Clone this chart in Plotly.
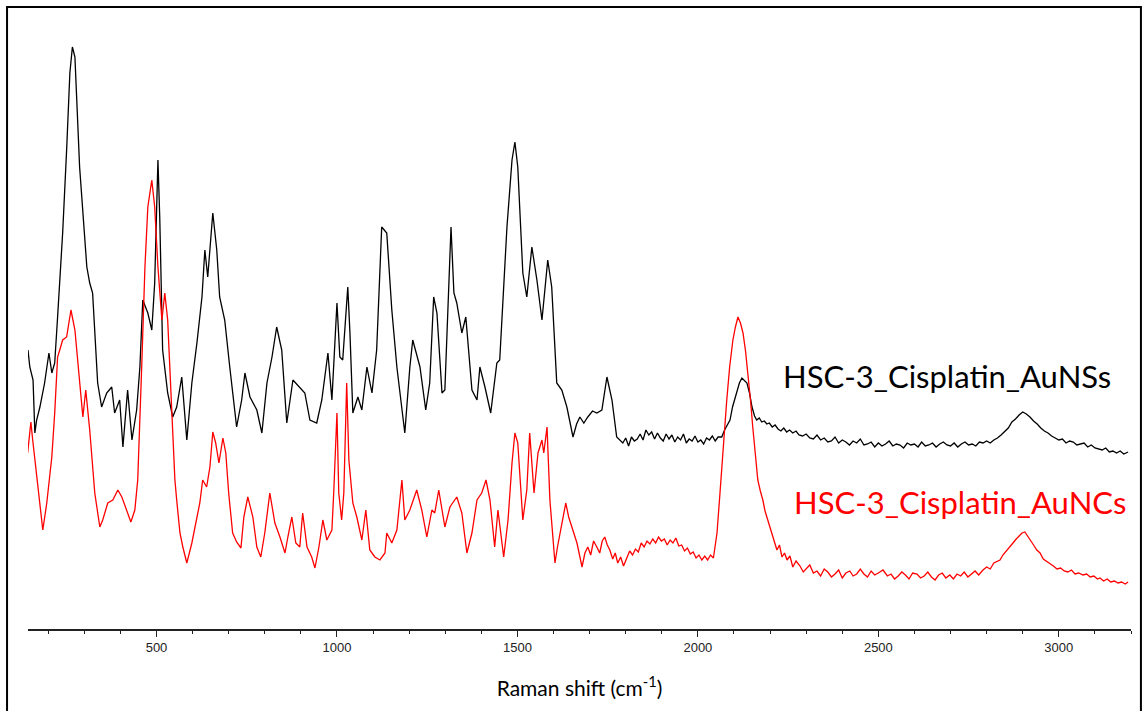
import plotly.graph_objects as go

# ---- data: Raman shift (cm-1) and intensity (a.u., offset traces) ----
black_x = [144, 149, 158, 163, 168, 177, 190, 202, 210, 218, 226, 240, 251, 260, 267, 274, 287, 307, 315, 323,
           337, 348, 362, 376, 384, 398, 407, 420, 432, 445, 454, 462, 476, 487, 495, 504, 509, 517, 531, 545,
           556, 570, 584, 598, 612, 626, 634, 642, 656, 667, 675, 689, 703, 722, 736, 745, 759, 778, 792, 806,
           820, 833, 847, 861, 878, 897, 911, 925, 944, 958, 975, 986, 1000, 1008, 1016, 1030, 1036, 1044, 1058, 1069,
           1083, 1097, 1110, 1124, 1138, 1152, 1166, 1188, 1202, 1210, 1230, 1246, 1257, 1268, 1277, 1291, 1299, 1316, 1324, 1332,
           1346, 1357, 1374, 1388, 1396, 1410, 1426, 1443, 1451, 1471, 1485, 1493, 1501, 1515, 1526, 1540, 1554, 1568, 1584, 1595,
           1609, 1623, 1637, 1654, 1664, 1673, 1684, 1695, 1708, 1720, 1734, 1748, 1762, 1775,
           1792, 1800, 1808, 1816, 1824, 1832, 1840, 1848, 1856, 1864, 1872, 1880, 1888, 1896, 1904, 1912, 1920, 1928, 1936, 1944,
           1952, 1960, 1968, 1976, 1984, 1992, 2000, 2008, 2016, 2024, 2032, 2040, 2048, 2056, 2066, 2074, 2082, 2089, 2096, 2102,
           2108, 2115, 2122, 2129, 2136, 2143, 2150, 2157, 2163, 2170, 2177, 2184, 2191, 2198, 2206, 2214, 2222, 2230, 2238, 2246,
           2254, 2263, 2272, 2280, 2290, 2300, 2310, 2320, 2330, 2340, 2350, 2360, 2370, 2380, 2390, 2400, 2410, 2420, 2430, 2440,
           2450, 2460, 2470, 2480, 2490, 2500, 2510, 2520, 2530, 2540, 2550, 2560, 2570, 2580, 2590, 2600, 2610, 2620, 2630, 2640,
           2650, 2660, 2670, 2680, 2690, 2700, 2710, 2720, 2730, 2740, 2750, 2760, 2770, 2780, 2790, 2800, 2810, 2820, 2830, 2840,
           2850, 2860, 2870, 2880, 2890, 2900, 2910, 2920, 2930, 2940, 2950, 2960, 2970, 2980, 2990, 3000, 3010, 3020, 3030, 3040,
           3050, 3060, 3070, 3080, 3090, 3100, 3110, 3120, 3130, 3140, 3150, 3160, 3170, 3180, 3192]
black_y = [279, 262, 249, 196, 209, 222, 246, 276, 256, 266, 312, 396, 479, 556, 582, 572, 462, 362, 346, 336,
           246, 222, 236, 242, 216, 229, 182, 239, 189, 219, 262, 329, 316, 299, 346, 469, 412, 279, 236, 212,
           222, 252, 189, 246, 286, 332, 379, 352, 416, 379, 332, 309, 262, 202, 229, 256, 232, 219, 196, 246,
           272, 302, 279, 206, 249, 242, 236, 209, 206, 229, 276, 229, 326, 272, 269, 342, 296, 216, 232, 219,
           262, 236, 279, 402, 396, 319, 262, 196, 262, 289, 262, 219, 246, 332, 316, 236, 239, 402, 336, 326,
           296, 312, 239, 229, 262, 242, 216, 266, 269, 402, 469, 487, 462, 356, 332, 382, 349, 309, 369, 342,
           246, 239, 222, 192, 205, 212, 206, 212, 218, 216, 219, 252, 229, 192,
           186, 191, 183, 192, 188, 190, 195, 189, 199, 194, 197, 190, 196, 191, 188, 195, 190, 194, 187, 192,
           189, 195, 186, 190, 188, 193, 187, 189, 185, 191, 189, 193, 188, 192, 192, 199, 205, 209, 222, 230,
           236, 246, 251, 248, 246, 236, 222, 213, 209, 211, 207, 208, 205, 206, 202, 204, 200, 198, 201, 197,
           199, 196, 198, 194, 193, 195, 191, 190, 194, 189, 191, 187, 188, 192, 186, 189, 187, 184, 188, 186,
           190, 184, 185, 187, 182, 186, 183, 185, 188, 183, 185, 184, 181, 186, 184, 185, 182, 187, 183, 184,
           186, 182, 185, 187, 184, 183, 186, 182, 185, 187, 184, 185, 183, 187, 186, 188, 186, 189, 191, 194,
           198, 201, 207, 210, 214, 217, 215, 212, 208, 205, 201, 198, 196, 193, 191, 189, 190, 186, 188, 187,
           184, 185, 186, 182, 184, 181, 180, 179, 181, 177, 178, 176, 178, 175, 177]

red_x = [143, 152, 157, 168, 177, 185, 196, 210, 218, 226, 232, 240, 251, 263, 274, 287, 296, 304, 315, 329,
         343, 351, 365, 379, 393, 404, 418, 429, 440, 448, 459, 468, 476, 487, 495, 504, 515, 523, 531, 542,
         551, 556, 565, 573, 584, 598, 612, 620, 628, 639, 648, 656, 664, 673, 684, 692, 700, 711, 722, 734,
         742, 753, 767, 778, 789, 800, 814, 828, 842, 856, 864, 875, 886, 897, 905, 917, 930, 939, 950, 961,
         972, 986, 991, 1000, 1005, 1013, 1019, 1027, 1033, 1044, 1055, 1069, 1080, 1091, 1105, 1119, 1133, 1138, 1152, 1166,
         1180, 1188, 1202, 1221, 1235, 1249, 1263, 1271, 1282, 1299, 1313, 1332, 1346, 1360, 1374, 1388, 1401, 1413, 1424, 1437,
         1446, 1462, 1474, 1485, 1493, 1501, 1515, 1526, 1534, 1546, 1557, 1568, 1573, 1582, 1590, 1600, 1604, 1611, 1618, 1626,
         1634, 1642, 1651, 1658, 1665, 1672, 1679, 1687, 1695, 1703, 1711, 1720, 1728, 1735, 1742, 1749, 1756, 1764, 1771, 1778,
         1786, 1794, 1803, 1811, 1819, 1827, 1835, 1843, 1851, 1859, 1867, 1875, 1883, 1891, 1899, 1907, 1915, 1923, 1931, 1939,
         1947, 1955, 1963, 1971, 1979, 1987, 1995, 2003, 2011, 2019, 2027, 2035, 2043, 2049, 2053, 2060, 2066, 2073, 2080, 2088,
         2097, 2104, 2111, 2118, 2125, 2132, 2139, 2146, 2152, 2159, 2166, 2173, 2180, 2186, 2191, 2198, 2205, 2212, 2219, 2226,
         2233, 2240, 2247, 2255, 2263, 2272, 2283, 2292, 2301, 2310, 2320, 2330, 2340, 2350, 2360, 2370, 2380, 2390, 2400, 2410,
         2421, 2430, 2440, 2450, 2460, 2470, 2480, 2490, 2500, 2513, 2525, 2535, 2545, 2555, 2565, 2575, 2585, 2595, 2607, 2617,
         2627, 2637, 2647, 2657, 2667, 2677, 2687, 2698, 2708, 2718, 2728, 2738, 2748, 2758, 2768, 2778, 2790, 2800, 2810, 2820,
         2830, 2837, 2845, 2855, 2865, 2873, 2882, 2890, 2898, 2906, 2914, 2922, 2930, 2939, 2948, 2957, 2966, 2975, 2985, 2995,
         3005, 3015, 3025, 3035, 3045, 3055, 3067, 3077, 3087, 3097, 3107, 3114, 3124, 3134, 3144, 3154, 3164, 3174, 3184, 3192]
red_y = [176, 207, 189, 152, 122, 99, 126, 172, 216, 272, 279, 289, 292, 319, 299, 246, 212, 239, 199, 136,
         102, 109, 126, 129, 139, 132, 119, 107, 119, 149, 262, 362, 422, 449, 422, 362, 309, 336, 309, 229,
         149, 129, 96, 82, 66, 86, 112, 126, 149, 142, 162, 197, 186, 166, 191, 176, 136, 96, 87, 81,
         112, 132, 112, 82, 72, 96, 136, 106, 92, 76, 92, 112, 86, 82, 116, 82, 72, 61, 82, 109,
         89, 99, 136, 216, 136, 109, 136, 246, 169, 126, 112, 89, 119, 79, 72, 69, 76, 96, 86, 99,
         149, 109, 119, 139, 119, 92, 119, 116, 139, 102, 122, 132, 116, 76, 96, 129, 136, 149, 129, 82,
         119, 72, 109, 166, 196, 186, 109, 139, 196, 136, 176, 189, 176, 202, 129, 80, 66, 82, 96, 110,
         126, 112, 102, 94, 86, 74, 62, 76, 82, 74, 88, 82, 76, 88, 92, 84, 79, 70, 76, 66,
         72, 63, 70, 78, 74, 80, 77, 86, 82, 88, 85, 90, 86, 92, 88, 90, 84, 89, 86, 91,
         83, 84, 78, 81, 75, 77, 71, 74, 69, 73, 69, 74, 71, 84, 96, 130, 162, 196, 229, 262,
         289, 302, 312, 306, 296, 278, 256, 228, 202, 176, 149, 138, 129, 118, 112, 104, 96, 88, 79, 84,
         72, 76, 69, 73, 62, 68, 63, 57, 61, 64, 56, 58, 53, 60, 57, 52, 55, 59, 51, 56,
         58, 53, 55, 60, 55, 52, 58, 54, 56, 59, 53, 55, 50, 53, 57, 54, 50, 56, 55, 51,
         53, 57, 52, 49, 54, 56, 51, 54, 50, 55, 53, 57, 52, 55, 58, 54, 59, 62, 60, 66,
         68, 69, 74, 78, 82, 86, 90, 93, 96, 97, 93, 88, 84, 79, 76, 70, 68, 66, 63, 60,
         61, 58, 57, 59, 55, 56, 54, 55, 52, 53, 50, 51, 48, 50, 47, 48, 46, 47, 45, 47]

series_names = ["HSC-3_Cisplatin_AuNSs", "HSC-3_Cisplatin_AuNCs"]
series_colors = ["#000000", "#ff0000"]
x_ticks = [500, 1000, 1500, 2000, 2500, 3000]
x_range = [144, 3200]

fig = go.Figure()
fig.add_trace(go.Scatter(x=black_x, y=black_y, mode="lines", name=series_names[0],
                         line=dict(color=series_colors[0], width=1.3)))
fig.add_trace(go.Scatter(x=red_x, y=red_y, mode="lines", name=series_names[1],
                         line=dict(color=series_colors[1], width=1.3)))

fig.add_annotation(x=3150, y=253, xref="x", yref="y", text=series_names[0], showarrow=False,
                   xanchor="right", yanchor="middle",
                   font=dict(family="Lato", size=31, color=series_colors[0]))
fig.add_annotation(x=3192, y=127, xref="x", yref="y", text=series_names[1], showarrow=False,
                   xanchor="right", yanchor="middle",
                   font=dict(family="Lato", size=31, color=series_colors[1]))

# outer frame
fig.add_shape(type="rect", xref="paper", yref="paper",
              x0=-0.019, x1=1.009, y0=-0.16, y1=1.005,
              line=dict(color="#000000", width=2), fillcolor="rgba(0,0,0,0)", layer="above")

fig.update_layout(
    width=1145, height=711,
    margin=dict(l=28, r=14, t=10, b=82),
    paper_bgcolor="white", plot_bgcolor="white",
    showlegend=False,
    xaxis=dict(range=x_range, tickvals=x_ticks, ticks="outside", ticklen=6, tickwidth=1,
               tickcolor="#222", showline=True, linecolor="#222", linewidth=1.5,
               showgrid=False, zeroline=False,
               minor=dict(dtick=100, tick0=0, ticks="outside", ticklen=3, tickcolor="#222", showgrid=False),
               tickfont=dict(family="Liberation Sans", size=13, color="#222"),
               title=dict(text="Raman shift (cm<sup>-1</sup>)", standoff=27,
                          font=dict(family="Lato", size=21, color="#000"))),
    yaxis=dict(range=[0, 619], visible=False, showgrid=False, zeroline=False),
)

fig.write_html("out.html")
